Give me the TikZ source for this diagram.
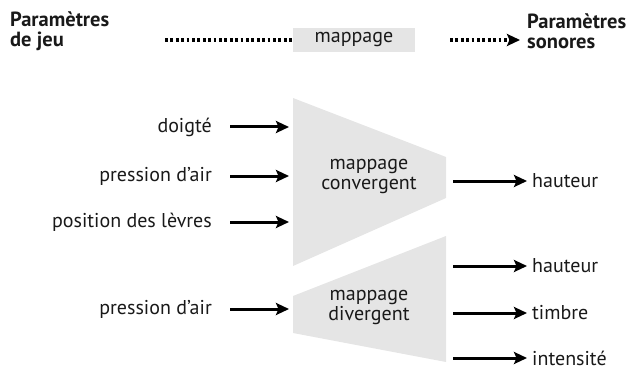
\documentclass[tikz,border=0pt]{standalone}
\usepackage{fontspec}
\setmainfont{PT Sans}
\usetikzlibrary{arrows.meta}
\begin{document}
\begin{tikzpicture}[x=1pt,y=-1pt,
  lbl/.style={font=\fontsize{20}{20}\selectfont, inner sep=0pt, text=black!90},
  head/.style={font=\fontsize{20.5}{20}\selectfont\bfseries, inner sep=0pt, align=left, text=black!90},
  tip/.style={-{Stealth[length=13pt,width=12pt,inset=2.5pt]}},
  arr/.style={line width=3pt, tip},
  dots/.style={line width=3.2pt, dash pattern=on 2.8pt off 2.6pt},
  greybox/.style={fill=black!10, draw=none}]
\useasboundingbox (0,0) rectangle (628,390);
% header
\node[head, anchor=west] (pj) at (10,31) {Paramètres\\de jeu};
\node[head, anchor=west] (ps) at (527,31) {Paramètres\\sonores};
\node[greybox, minimum width=122pt, minimum height=24pt, inner sep=0pt, lbl] (map) at (354,40) {mappage};
\coordinate (d1) at (165,40);
\coordinate (d2) at (450,40);
\coordinate (d3) at (520,40);
\draw[dots] (d1) -- (map.west);
\draw[dots, tip] (d2) -- (d3);
% convergent trapezoid
\fill[black!10] (293,98) -- (446,157) -- (446,198) -- (293,266) -- cycle;
\node[lbl, align=center] (conv) at (369,176) {mappage\\convergent};
% divergent trapezoid
\fill[black!10] (293,296) -- (446,236) -- (446,362) -- (293,333) -- cycle;
\node[lbl, align=center] (div) at (369,307) {mappage\\divergent};
% inputs
\node[lbl, anchor=east] (i1) at (212,127) {doigté};
\node[lbl, anchor=east] (i2) at (212,176) {pression d’air};
\node[lbl, anchor=east] (i3) at (212,222) {position des lèvres};
\node[lbl, anchor=east] (i4) at (212,309) {pression d’air};
\foreach \n/\y in {i1/127,i2/176,i3/222,i4/309}{
  \draw[arr] (230,\y) -- (289,\y);
}
% outputs
\node[lbl, anchor=west] (o1) at (532,181) {hauteur};
\node[lbl, anchor=west] (o2) at (532,266) {hauteur};
\node[lbl, anchor=west] (o3) at (532,313) {timbre};
\node[lbl, anchor=west] (o4) at (532,358) {intensité};
\foreach \n/\y in {o1/181,o2/266,o3/313,o4/358}{
  \draw[arr] (453,\y) -- (527,\y);
}
\end{tikzpicture}
\end{document}
